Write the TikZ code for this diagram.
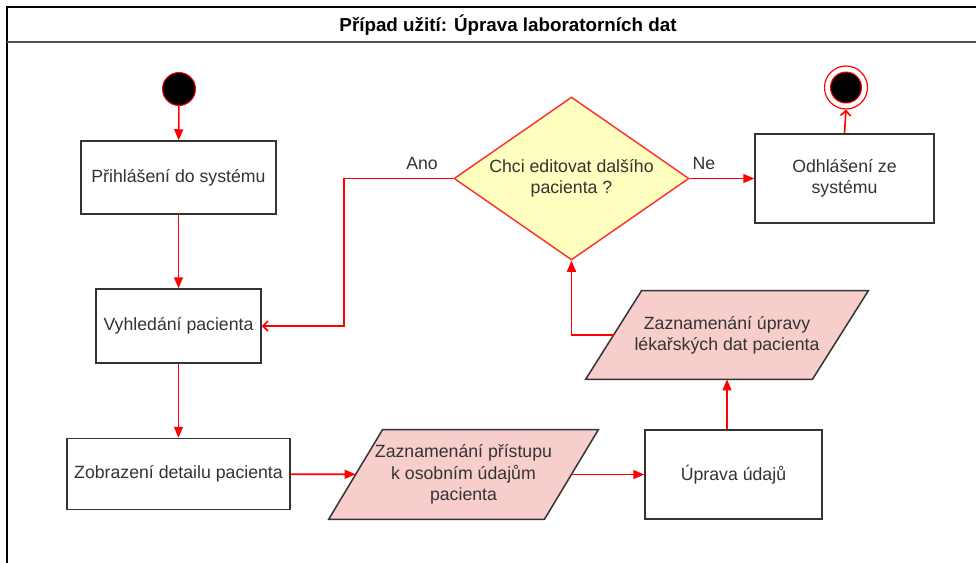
\documentclass[tikz,border=0pt]{standalone}
\usepackage{fontspec}
\setmainfont{Liberation Sans}
\usepackage{tikz}
\usetikzlibrary{positioning, shapes.geometric, arrows.meta, backgrounds}
\definecolor{flowred}{HTML}{FF0000}
\definecolor{framed}{HTML}{333333}
\definecolor{parafill}{HTML}{F8CECC}
\definecolor{decfill}{HTML}{FFFFC0}
\definecolor{textd}{HTML}{333333}

\tikzset{
  every node/.style={font=\fontsize{8.85pt}{10.6pt}\selectfont, text=textd},
  actbox/.style={draw=framed, line width=0.75pt, fill=white, align=center, inner sep=2pt},
  parabody/.style={draw=none, align=center, inner sep=0pt},
  parashape/.style={draw=framed, line width=0.75pt, fill=parafill},
  decbox/.style={diamond, draw=flowred!80, line width=0.75pt, fill=decfill, align=center,
                 inner sep=0pt, shape aspect=1.44, minimum width=117.5pt, minimum height=81.5pt},
  flow/.style={draw=flowred, line width=0.8pt, -{Triangle[length=5.5pt, width=4.5pt]}},
  openflow/.style={draw=flowred, line width=0.8pt, -{Straight Barb[length=2.5pt, width=5pt]}}
}

\begin{document}
\begin{tikzpicture}[x=0.5pt, y=-0.5pt]
    \clip (0,0) rectangle (976,563);

    % frame
    \draw[black, line width=1pt] (7,620) -- (7,7) -- (1010,7);
    \draw[framed!85, line width=1.2pt] (7,42) -- (1010,42);
    \node[font=\fontsize{9.4pt}{11pt}\selectfont\bfseries, text=black] (title) at (508,25)
      {Případ užití: Úprava laboratorních dat};

    % start and end
    \node[circle, fill=black, draw=flowred, line width=0.5pt, minimum size=16.5pt, inner sep=0pt] (start) at (179,89) {};
    \node[circle, draw=flowred, line width=0.6pt, minimum size=21.5pt, inner sep=0pt] (finish) at (846,87.5) {};
    \node[circle, fill=black, draw=flowred, line width=0.5pt, minimum size=15.5pt, inner sep=0pt] at (846,87.5) {};

    % activities
    \node[actbox, minimum width=97.5pt, minimum height=36.5pt] (login) at (178.5,177.5) {Přihlášení do systému};
    \node[actbox, minimum width=82.5pt, minimum height=37pt] (search) at (178.5,326) {Vyhledání pacienta};
    \node[actbox, minimum width=111.5pt, minimum height=35.5pt] (detail) at (178.5,474) {Zobrazení detailu pacienta};
    \node[actbox, minimum width=88.5pt, minimum height=44.5pt] (edit) at (733.5,474.5) {Úprava údajů};
    \node[actbox, minimum width=89.5pt, minimum height=44.5pt] (logout) at (844.5,178.5) {Odhlášení ze\\systému};

    % records
    \node[parabody, minimum width=107.5pt, minimum height=44.5pt] (rec1) at (463.5,474.5)
      {Zaznamenání přístupu\\k osobním údajům\\pacienta};
    \node[parabody, minimum width=113pt, minimum height=44pt] (rec2) at (727,335)
      {Zaznamenání úpravy\\lékařských dat pacienta};
    \begin{scope}[on background layer]
      \fill[white] (0,0) rectangle (976,563);
      \draw[parashape] ([xshift=13.5pt]rec1.north west) -- ([xshift=13.5pt]rec1.north east)
        -- ([xshift=-13.5pt]rec1.south east) -- ([xshift=-13.5pt]rec1.south west) -- cycle;
      \draw[parashape] ([xshift=14pt]rec2.north west) -- ([xshift=14pt]rec2.north east)
        -- ([xshift=-14pt]rec2.south east) -- ([xshift=-14pt]rec2.south west) -- cycle;
    \end{scope}

    % decision
    \node[decbox] (dec) at (571.5,178.5) {Chci editovat dalšího\\pacienta ?};
    \node (ano) at (422,163) {Ano};
    \node (ne) at (704,163) {Ne};
    \coordinate (bend) at (344,326);

    \draw[flow] (start) -- (login);
    \draw[flow] (login) -- (search);
    \draw[flow] (search) -- (detail);
    \draw[flow] (detail) -- (rec1);
    \draw[flow] (rec1) -- (edit);
    \draw[flow] (rec2.south |- edit.north) -- (rec2.south);
    \draw[flow] (rec2.west) -| (dec.south);
    \draw[openflow] (dec.west) -| (bend) -- (search.east);
    \draw[flow] (dec.east) -- (logout.west);
    \draw[openflow] (logout.north) -- (finish.south);
\end{tikzpicture}
\end{document}
